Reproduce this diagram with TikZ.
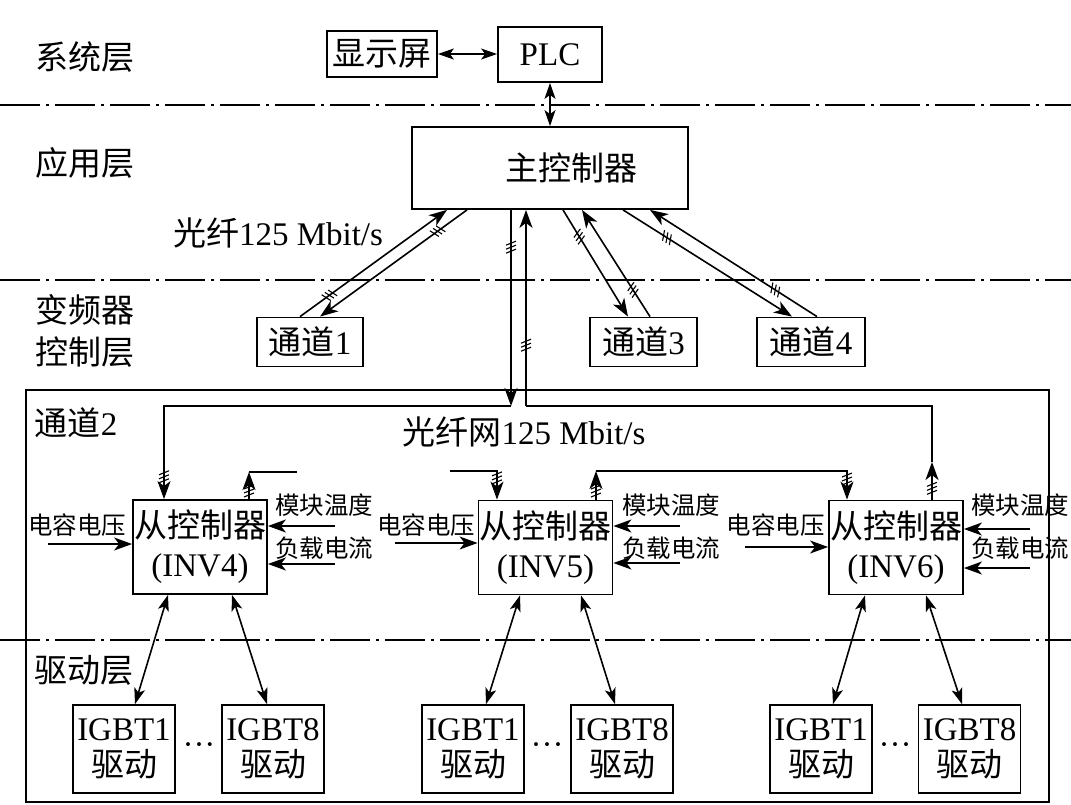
\documentclass[tikz,border=0pt]{standalone}
\usepackage{fontspec}
\setmainfont{Liberation Serif}
\newfontfamily\cjk{Noto Sans CJK SC}
\usetikzlibrary{arrows.meta}

\newcommand{\hz}[1]{{\cjk #1}}
\newcommand{\bigtxt}{\fontsize{33}{37}\selectfont}
\newcommand{\smalltxt}{\fontsize{24.5}{28}\selectfont}

\tikzset{
  box/.style={draw, line width=1.8pt, inner sep=0pt, font=\bigtxt, align=center},
  txt/.style={inner sep=0pt, font=\bigtxt, align=center},
  side/.style={inner sep=0pt, font=\smalltxt},
  slave/.style={box, minimum width=134pt, minimum height=94pt, font=\fontsize{33}{39}\selectfont},
  igbt/.style={box, minimum width=102pt, minimum height=88pt, font=\fontsize{33}{36}\selectfont},
  layer/.style={line width=1.6pt, dash pattern=on 40pt off 6pt on 3pt off 6pt},
  fib/.style={line width=1.6pt},
  arr/.style={line width=1.6pt, -{Stealth[length=18pt,width=13pt,inset=5pt]}},
  darr/.style={line width=1.6pt, {Stealth[length=16pt,width=11pt,inset=4pt]}-{Stealth[length=16pt,width=11pt,inset=4pt]}},
  fibtick/.pic={\foreach \k in {-4,0,4} \draw[line width=1.1pt, -] (\k-2,-5) -- (\k+2,5);}
}

\begin{document}
\begin{tikzpicture}[x=1pt, y=-1pt]
\useasboundingbox (0,0) rectangle (1071,804);

% layers
\draw[layer] (0,105) -- (1071,105);
\draw[layer] (0,280) -- (1071,280);
\draw[layer] (0,640) -- (1071,640);
\node[txt] (sys) at (85,57) {\hz{系统层}};
\node[txt] (app) at (85,163) {\hz{应用层}};
\node[txt, font=\fontsize{33}{42}\selectfont] (ctl) at (85,331) {\hz{变频器}\\\hz{控制层}};
\node[txt] (drv) at (84,670) {\hz{驱动层}};

% system / application
\node[box, minimum width=110pt, minimum height=46pt] (disp) at (382,54) {\hz{显示屏}};
\node[box, minimum width=104pt, minimum height=55pt] (plc) at (550,54.5) {PLC};
\draw[darr] (disp.east) -- (disp.east -| plc.west);
\node[box, minimum width=276pt, minimum height=82pt] (main) at (550,168) {\hspace*{1.33em}\hz{主控制器}};
\draw[darr] (plc.south) -- (plc.south |- main.north);

% channels
\node[box, minimum width=106pt, minimum height=49pt] (ch1) at (310,342) {\hz{通道}1};
\node[box, minimum width=107pt, minimum height=49pt] (ch3) at (643.5,342) {\hz{通道}3};
\node[box, minimum width=108pt, minimum height=49pt] (ch4) at (811,342) {\hz{通道}4};
\node[txt] (fiblbl) at (278,233) {\hz{光纤}125 Mbit/s};

\draw[arr] ([xshift=-10pt]ch1.north) -- ([xshift=-103pt]main.south) pic[pos=0.2, sloped]{fibtick};
\draw[arr] ([xshift=-83pt]main.south) -- ([xshift=10pt]ch1.north) pic[pos=0.2, sloped]{fibtick};
\draw[arr] ([xshift=13pt]main.south) -- ([xshift=-15.5pt]ch3.north) pic[pos=0.25, sloped]{fibtick};
\draw[arr] ([xshift=6.5pt]ch3.north) -- ([xshift=32pt]main.south) pic[pos=0.25, sloped]{fibtick};
\draw[arr] ([xshift=73pt]main.south) -- ([xshift=-19pt]ch4.north) pic[pos=0.26, sloped]{fibtick};
\draw[arr] ([xshift=6pt]ch4.north) -- ([xshift=100pt]main.south) pic[pos=0.25, sloped]{fibtick};

% channel 2
\node[box, minimum width=1023pt, minimum height=412pt] (ch2) at (537.5,596) {};
\node[txt] (ch2lbl) at (76,423) {\hz{通道}2};
\node[txt] (netlbl) at (524,432) {\hz{光纤网}125 Mbit/s};

\node[slave] (inv4) at (200,547) {\hz{从控制器}\\(INV4)};
\node[slave] (inv5) at (545.5,547.5) {\hz{从控制器}\\(INV5)};
\node[slave] (inv6) at (896,547.5) {\hz{从控制器}\\(INV6)};

% fibre ring
\coordinate (ringL) at (511,406);
\coordinate (ringR) at (526,406);
\draw[arr] (main.south -| ringL) -- (ringL) pic[pos=0.19, sloped]{fibtick};
\draw[arr] (ringL) -| ([xshift=-36pt]inv4.north) pic[pos=0.88, sloped]{fibtick};

\coordinate (t4) at (249,472);
\coordinate (e4) at (297,472);
\draw[arr] (t4 |- inv4.north) -- (t4) pic[pos=0.3, sloped]{fibtick};
\draw[fib] (t4) -- (e4);
\coordinate (s5) at (450,471);
\draw[arr] (s5) -| ([xshift=-48.5pt]inv5.north) pic[pos=0.62, sloped]{fibtick};

\coordinate (t5) at (596,471);
\draw[arr] (t5 |- inv5.north) -- (t5) pic[pos=0.3, sloped]{fibtick};
\draw[arr] (t5) -| ([xshift=-49pt]inv6.north) pic[pos=0.64, sloped]{fibtick};

\coordinate (t6) at (932,462);
\draw[arr] (t6 |- inv6.north) -- (t6) pic[pos=0.3, sloped]{fibtick};
\draw[fib] (t6) |- (ringR);
\draw[arr] (ringR) -- (ringR |- main.south) pic[pos=0.31, sloped]{fibtick};

% inputs INV4
\node[side] (cap4) at (77,525) {\hz{电容电压}};
\node[side] (tmp4) at (324,505) {\hz{模块温度}};
\node[side] (lod4) at (324,548) {\hz{负载电流}};
\coordinate (c4) at (48,544);
\coordinate (m4) at (335,526);
\coordinate (l4) at (335,564);
\draw[arr] (c4) -- (c4 -| inv4.west);
\draw[arr] (m4) -- (m4 -| inv4.east);
\draw[arr] (l4) -- (l4 -| inv4.east);

% inputs INV5
\node[side] (cap5) at (426,525) {\hz{电容电压}};
\node[side] (tmp5) at (671,505) {\hz{模块温度}};
\node[side] (lod5) at (671,548) {\hz{负载电流}};
\coordinate (c5) at (395,543);
\coordinate (m5) at (680,526);
\coordinate (l5) at (680,563);
\draw[arr] (c5) -- (c5 -| inv5.west);
\draw[arr] (m5) -- (m5 -| inv5.east);
\draw[arr] (l5) -- (l5 -| inv5.east);

% inputs INV6
\node[side] (cap6) at (775.5,525) {\hz{电容电压}};
\node[side] (tmp6) at (1020,505) {\hz{模块温度}};
\node[side] (lod6) at (1020,548) {\hz{负载电流}};
\coordinate (c6) at (745,547);
\coordinate (m6) at (1030,529);
\coordinate (l6) at (1030,568);
\draw[arr] (c6) -- (c6 -| inv6.west);
\draw[arr] (m6) -- (m6 -| inv6.east);
\draw[arr] (l6) -- (l6 -| inv6.east);

% drivers
\node[igbt] (g41) at (124,749) {IGBT1\\\hz{驱动}};
\node[igbt] (g48) at (273,749) {IGBT8\\\hz{驱动}};
\node[txt] (d4) at (199,749) {···};
\draw[darr] ([xshift=-32pt]inv4.south) -- ([xshift=11pt]g41.north);
\draw[darr] ([xshift=32pt]inv4.south) -- ([xshift=-6pt]g48.north);

\node[igbt] (g51) at (473,749) {IGBT1\\\hz{驱动}};
\node[igbt] (g58) at (622,749) {IGBT8\\\hz{驱动}};
\node[txt] (d5) at (547,749) {···};
\draw[darr] ([xshift=-25.5pt]inv5.south) -- ([xshift=13pt]g51.north);
\draw[darr] ([xshift=35.5pt]inv5.south) -- ([xshift=-7pt]g58.north);

\node[igbt] (g61) at (821,749) {IGBT1\\\hz{驱动}};
\node[igbt] (g68) at (969.5,749) {IGBT8\\\hz{驱动}};
\node[txt] (d6) at (895,749) {···};
\draw[darr] ([xshift=-31pt]inv6.south) -- ([xshift=12pt]g61.north);
\draw[darr] ([xshift=30pt]inv6.south) -- ([xshift=-7.5pt]g68.north);

\end{tikzpicture}
\end{document}
